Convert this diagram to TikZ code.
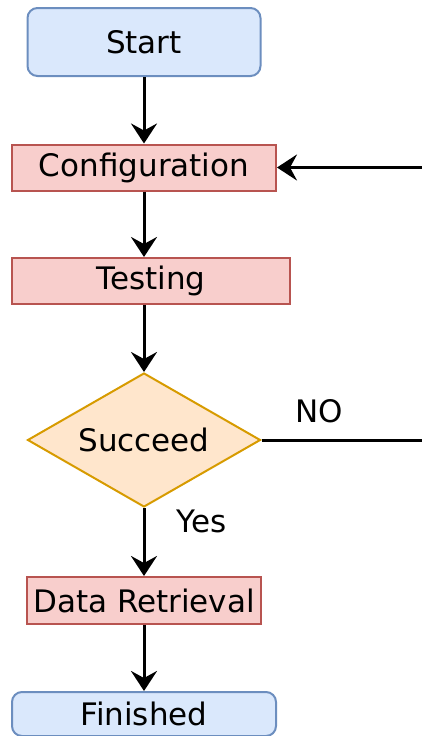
\documentclass[tikz,border=0pt]{standalone}
\usepackage{fontspec}
\setmainfont{DejaVu Sans}
\usetikzlibrary{shapes.geometric,arrows.meta}
\definecolor{bluefill}{HTML}{DAE8FC}
\definecolor{bluedraw}{HTML}{6C8EBF}
\definecolor{redfill}{HTML}{F8CECC}
\definecolor{reddraw}{HTML}{B85450}
\definecolor{orangefill}{HTML}{FFE6CC}
\definecolor{orangedraw}{HTML}{D79B00}
\begin{document}
\begin{tikzpicture}[x=1pt, y=-1pt, every node/.style={font=\fontsize{31}{37}\selectfont},
  term/.style={draw=bluedraw,fill=bluefill,line width=2pt,rounded corners=10pt,minimum height=44pt},
  proc/.style={draw=reddraw,fill=redfill,line width=2pt,minimum height=46pt,inner sep=2pt},
  flow/.style={-{Stealth[length=20pt,width=26pt,inset=7pt]},line width=3pt}]
  \useasboundingbox (0,0) rectangle (422,736);
  \node[term,minimum width=233pt,minimum height=68pt] (start) at (144,42) {Start};
  \node[proc,minimum width=264pt] (conf) at (144,167.5) {Configuration};
  \node[proc,minimum width=278pt] (test) at (151,281) {Testing};
  \node[diamond,draw=orangedraw,fill=orangefill,line width=2pt,aspect=1.74,inner sep=0pt,
    minimum width=233pt,minimum height=134pt] (succ) at (144,440) {Succeed};
  \node[proc,minimum width=234pt,minimum height=47pt] (data) at (144,600.5) {Data Retrieval};
  \node[term,minimum width=264pt] (done) at (144,714) {Finished};
  \coordinate (noend) at (422,440);
  \coordinate (back) at (422,167.5);
  \draw[flow] (start) -- (conf);
  \draw[flow] (conf) -- (conf.south |- test.north);
  \draw[flow] (succ.north |- test.south) -- (succ);
  \draw[flow] (succ) -- (data) node[pos=0.2,right=28pt] (yes) {Yes};
  \draw[flow] (data) -- (done);
  \draw[line width=3pt] (succ.east) -- (noend) node[pos=0.36,above=12pt] (no) {NO};
  \draw[flow] (back) -- (conf);
\end{tikzpicture}
\end{document}
